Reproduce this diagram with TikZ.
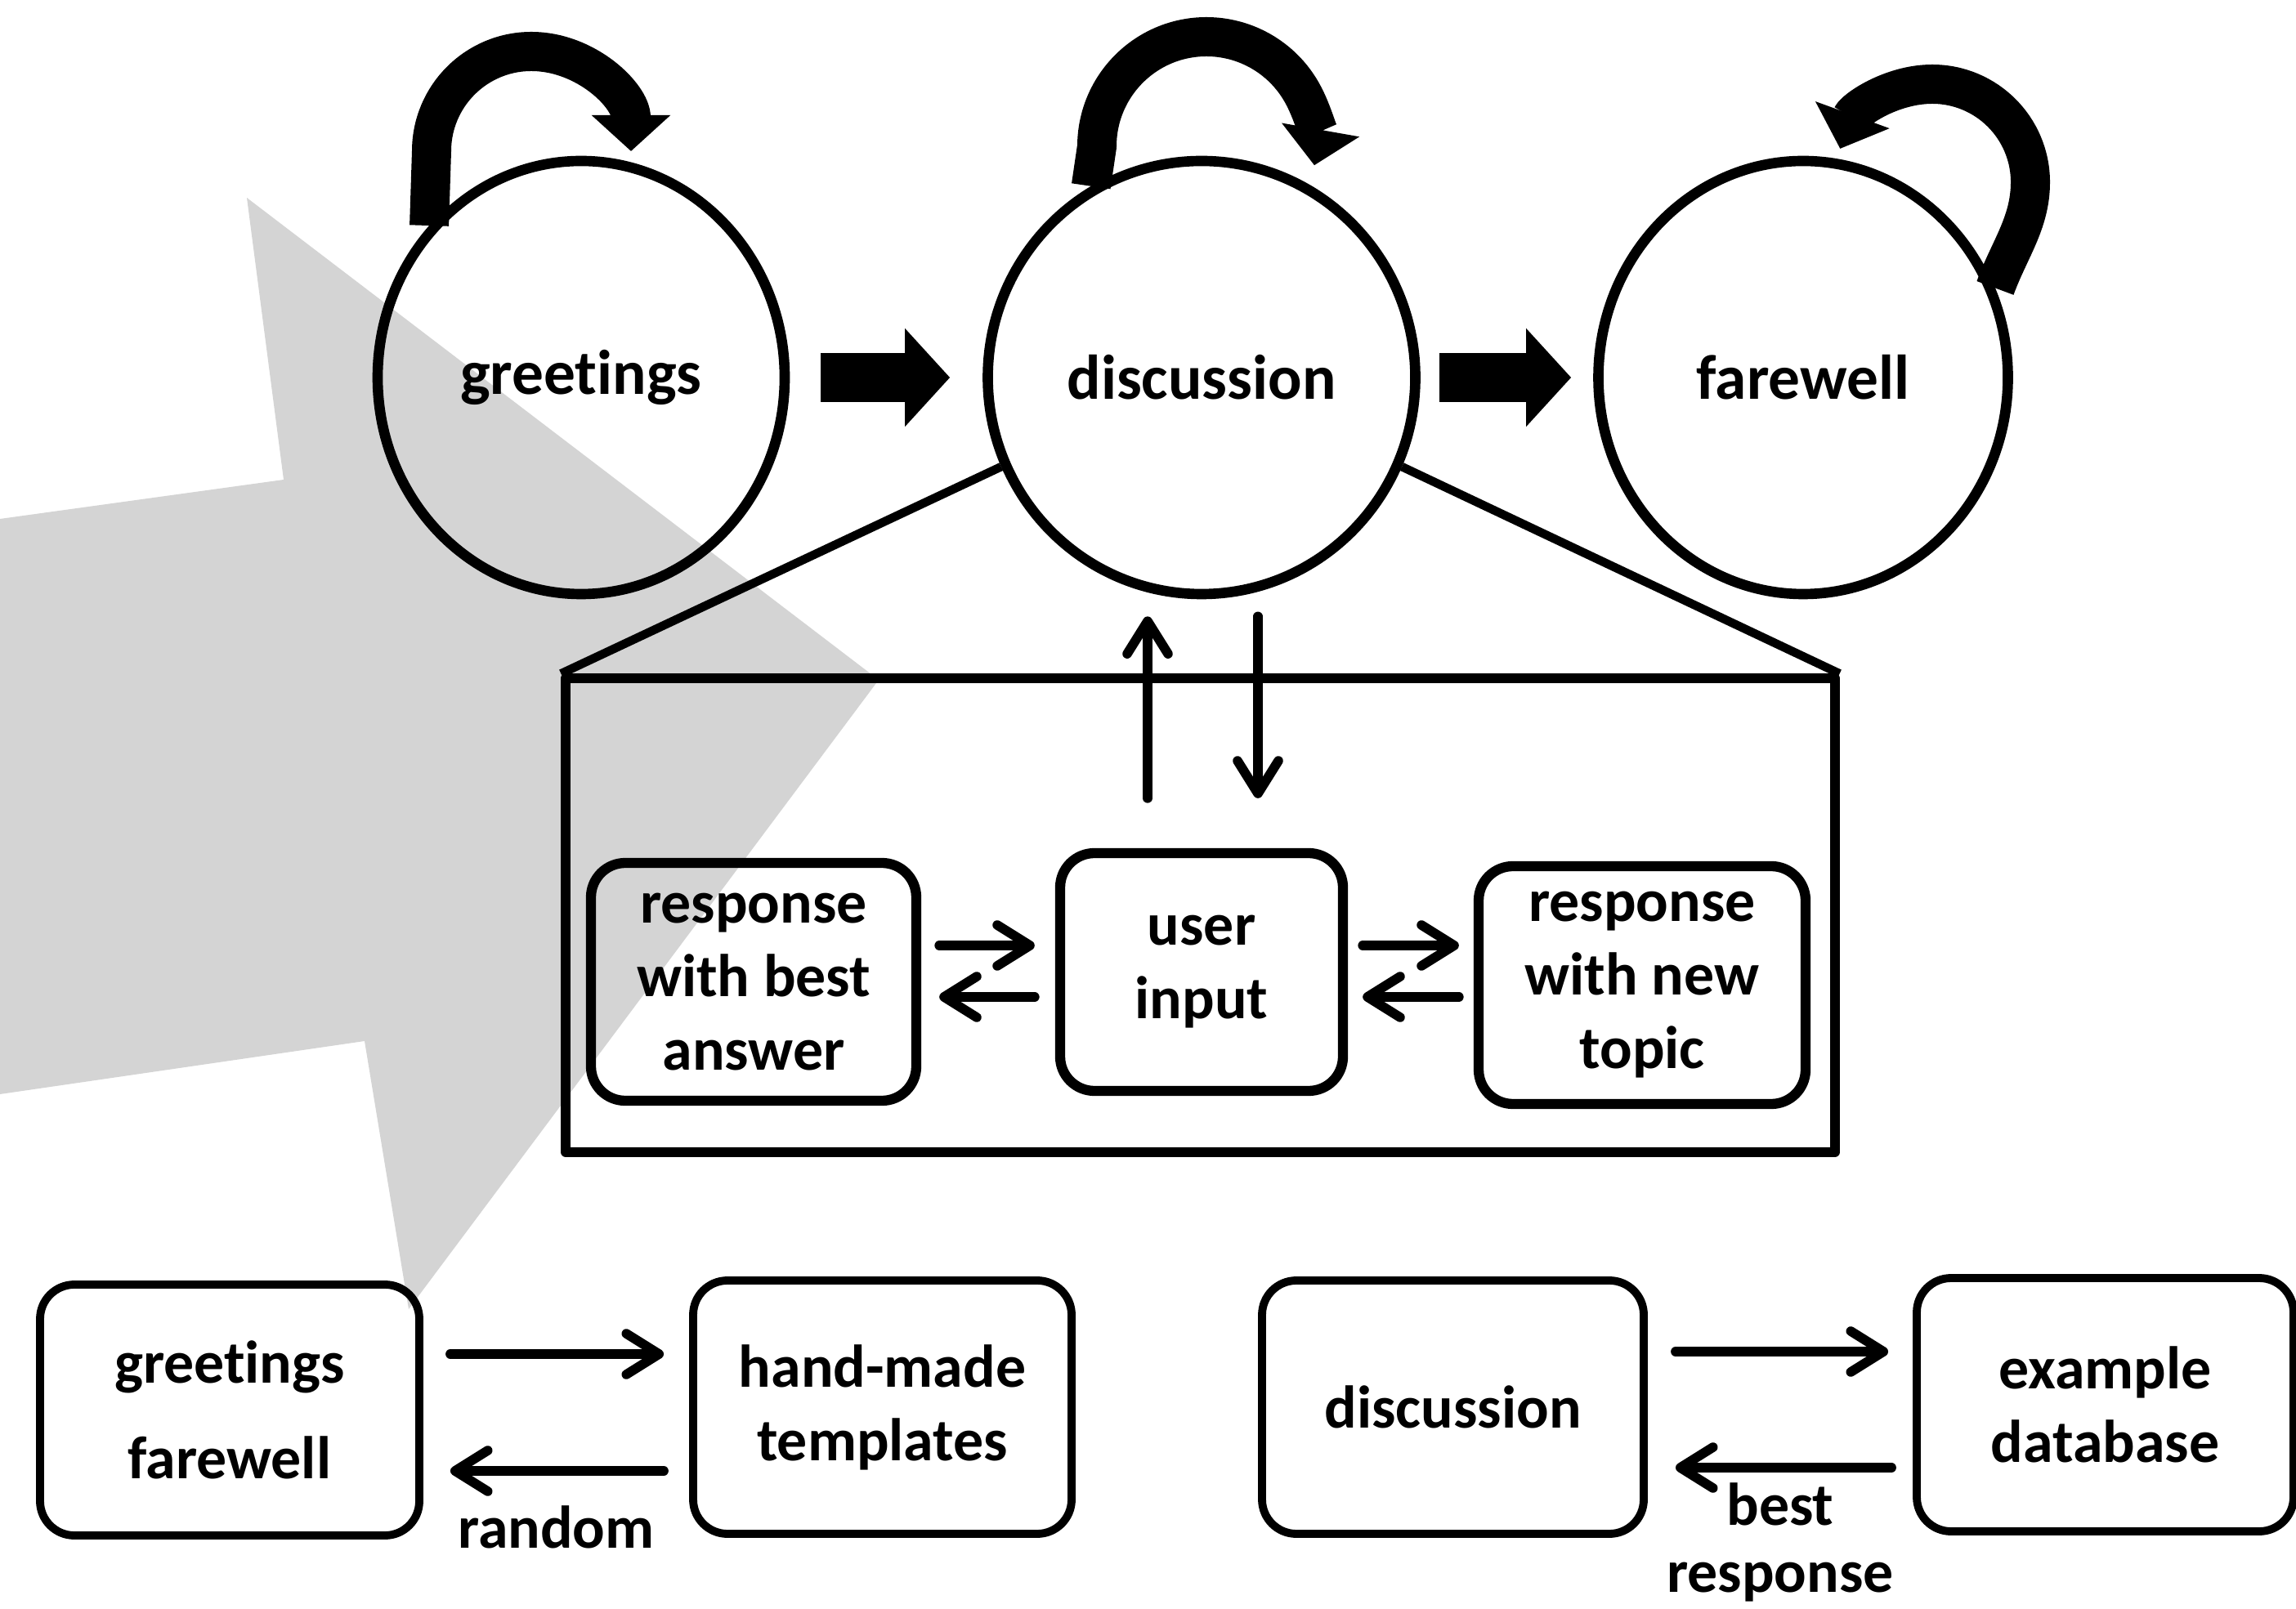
\documentclass[tikz,border=0pt]{standalone}
\usepackage{fontspec}
\setmainfont{Carlito}[Ligatures=NoCommon]
\usetikzlibrary{arrows.meta,shapes.geometric}
\definecolor{bggrey}{RGB}{212,212,212}
\begin{document}
\begin{tikzpicture}[line join=round,font=\bfseries\fontsize{21}{25.6}\selectfont,
	state/.style={ellipse,draw,line width=3.6pt,inner sep=0pt,minimum height=5.30cm,font=\bfseries\fontsize{22}{26}\selectfont},
	box/.style={rectangle,draw,rounded corners=0.42cm,line width=2.8pt,align=center,inner sep=0pt},
	inbox/.style={box,line width=3.5pt,minimum height=2.91cm},
	arr/.style={line width=3.3pt,line cap=round,-{Straight Barb[length=0.40cm,width=0.50cm,round]}},
	fat/.style={line width=0.6cm,-{Triangle[length=0.55cm,width=1.17cm]}},
	selfarrow/.style={line width=0.48cm,-{Triangle[length=0.44cm,width=0.94cm]}},
	lbl/.style={anchor=north,inner sep=0pt,align=center}]
		\useasboundingbox (0,0) rectangle (28.09,19.68);
		\path (3.02,17.26) coordinate (A)
		(10.75,11.36) coordinate (B)
		(5.00,3.66) coordinate (C)
		(4.46,6.94) coordinate (D)
		(0,6.29) coordinate (E)
		(0,13.33) coordinate (F)
		(3.47,13.81) coordinate (G);
		\fill [bggrey] (A)--(B)--(C)--(D)--(E)--(F)--(G)--cycle;
		
		\foreach \n/\x/\w/\t in {g/7.11/4.98/greetings,d/14.70/5.23/discussion,f/22.06/5.01/farewell}{
			\node [state,minimum width=\w cm] (\n) at (\x,15.06) {\t};
		}
		\draw [fat] ([xshift=3.8mm]g.east) -- ([xshift=-4mm]d.west);
		\draw [fat] ([xshift=2.3mm]d.east) -- ([xshift=-2.7mm]f.west);
		\draw [selfarrow] (g.135) -- (5.28,17.83) arc [start angle=180,end angle=0,radius=1.22];
		\draw [selfarrow] (d.120) -- (13.42,17.89) arc [start angle=180,end angle=-10,radius=1.34];
		\draw [selfarrow] (f.25) .. controls +(70:0.5) and +(-90:0.5) .. (24.84,17.45) arc [start angle=0,end angle=160,radius=1.20];
		
		\node [draw,line width=3.2pt,inner sep=0pt,minimum width=15.53cm,minimum height=5.80cm] (zoomin) at (14.685,8.48) {};
		\draw [line width=3pt] (d.204) -- (zoomin.north west);
		\draw [line width=3pt] (d.336) -- (zoomin.north east);
		
		\node [inbox,minimum width=3.98cm] (best) at (9.22,7.665) {response\\with best\\answer};
		\node [inbox,minimum width=3.46cm] (user) at (14.70,7.785) {user\\input};
		\node [inbox,minimum width=4.00cm] (topic) at (20.09,7.625) {response\\with new\\topic};
		\draw [arr] ([xshift=-6.6mm,yshift=6.1mm]user.north) -- ([xshift=-6.6mm,yshift=-2.1mm]d.south);
		\draw [arr] ([xshift=6.9mm,yshift=-2.1mm]d.south) -- ([xshift=6.9mm,yshift=6.1mm]user.north);
		\draw [arr,shorten <=2.2mm,shorten >=2.5mm] ([yshift=3.25mm]best.east |- user.west) -- ([yshift=3.25mm]user.west);
		\draw [arr,shorten <=2.5mm,shorten >=2.2mm] ([yshift=-3.05mm]user.west) -- ([yshift=-3.05mm]best.east |- user.west);
		\draw [arr,shorten <=1.8mm,shorten >=1.8mm] ([yshift=3.25mm]user.east) -- ([yshift=3.25mm]topic.west |- user.east);
		\draw [arr,shorten <=1.8mm,shorten >=1.8mm] ([yshift=-3.05mm]topic.west |- user.east) -- ([yshift=-3.05mm]user.east);
		
		\node [box,minimum width=4.64cm,minimum height=3.07cm] (gf) at (2.81,2.425) {greetings\\[2.7mm]farewell};
		\node [box,minimum width=4.63cm,minimum height=3.10cm] (tmpl) at (10.795,2.46) {hand-made\\templates};
		\node [box,minimum width=4.67cm,minimum height=3.10cm] (disc) at (17.775,2.46) {discussion};
		\node [box,minimum width=4.61cm,minimum height=3.10cm] (db) at (25.755,2.49) {example\\database};
		\draw [arr,shorten <=3.3mm,shorten >=3.1mm] ([yshift=6.85mm]gf.east) -- ([yshift=6.85mm]gf.east -| tmpl.west);
		\draw [arr,shorten <=3.1mm,shorten >=3.3mm] ([yshift=-7.45mm]gf.east -| tmpl.west) -- ([yshift=-7.45mm]gf.east)
			node [lbl,midway,yshift=-3.7mm] {random};
		\draw [arr,shorten <=3.4mm,shorten >=3mm] ([yshift=6.8mm]disc.east) -- ([yshift=6.8mm]disc.east -| db.west);
		\draw [arr,shorten <=2.6mm,shorten >=3.4mm] ([yshift=-7.4mm]disc.east -| db.west) -- ([yshift=-7.4mm]disc.east)
			node [lbl,midway,yshift=-1.3mm] {best\\[-0.8mm]response};
		
	\end{tikzpicture}
\end{document}
